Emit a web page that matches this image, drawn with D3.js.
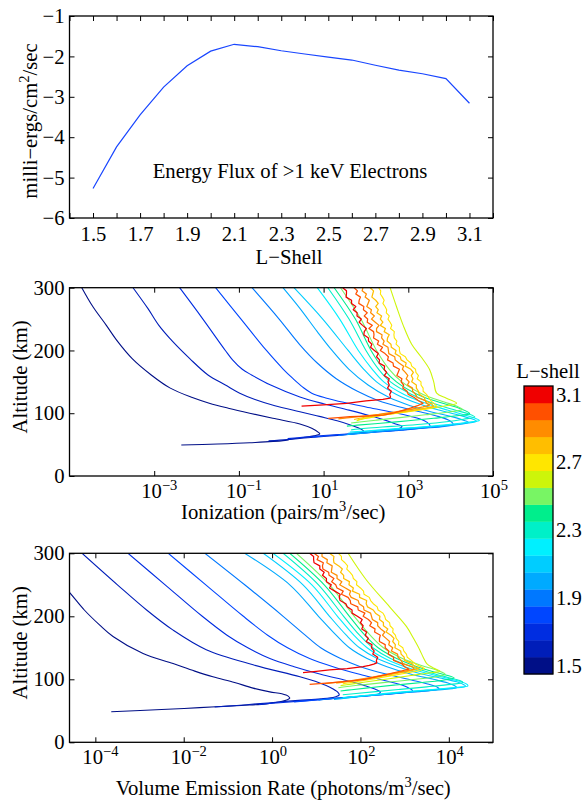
<!DOCTYPE html>
<html><head><meta charset="utf-8">
<script src="https://cdn.jsdelivr.net/npm/d3@7"></script>
<style>
body{margin:0;background:#fff}
svg{display:block}
text{font-family:"Liberation Serif","Times New Roman",Times,serif;font-size:20.7px;fill:#000}
</style></head>
<body><svg id="c" width="585" height="802"></svg>
<script>
// ---------------- DATA ----------------
const lShells = [1.5,1.6,1.7,1.8,1.9,2.0,2.1,2.2,2.3,2.4,2.5,2.6,2.7,2.8,2.9,3.0,3.1];
const energyFlux = [-5.27,-4.24,-3.45,-2.76,-2.23,-1.87,-1.70,-1.76,-1.86,-1.94,-2.02,-2.09,-2.22,-2.34,-2.43,-2.55,-3.16];
const lineColors = ["rgb(0,15,135)","rgb(0,30,185)","rgb(0,45,225)","rgb(0,70,255)","rgb(0,120,255)","rgb(0,170,255)","rgb(0,205,255)","rgb(0,240,255)","rgb(0,240,200)","rgb(0,238,140)","rgb(120,245,100)","rgb(205,245,10)","rgb(255,230,0)","rgb(255,190,0)","rgb(255,140,0)","rgb(255,80,0)","rgb(240,0,0)"];
const fluxXTicks = [1.4,1.5,1.6,1.7,1.8,1.9,2.0,2.1,2.2,2.3,2.4,2.5,2.6,2.7,2.8,2.9,3.0,3.1,3.2];
const fluxXLabels = [1.5,1.7,1.9,2.1,2.3,2.5,2.7,2.9,3.1];
const fluxYTicks = [-6,-5,-4,-3,-2,-1];
const altTicks = [0,100,200,300];
const ionXTicks = [1e-3,1e-1,1e1,1e3,1e5];
const emiXTicks = [1e-4,1e-2,1e0,1e2,1e4];
const cbarLabels = [1.5,1.9,2.3,2.7,3.1];

// profiles: [altitude km, log10 rate]
const ionL15 = [[300,-4.71],[270,-4.45],[240,-4.13],[214,-3.86],[187,-3.52],[161,-3.07],[140,-2.62],[125,-2.10],[116,-1.70],[108,-1.25],[100,-0.745],[92,-0.20],[83,0.44],[76,0.72],[70,0.87],[67,0.91],[64,0.78],[61,0.48],[58.5,0.22],[56.3,0.04],[53,-0.745],[51,-1.50],[49.4,-2.36]];
const ionL16 = [[300,-3.50],[267,-3.15],[240,-2.89],[214,-2.56],[187,-2.16],[161,-1.73],[145,-1.32],[132,-0.98],[122,-0.62],[112,-0.15],[102.5,0.44],[95,0.90],[88,1.32],[81,1.65],[75,1.88],[71,1.95],[68,1.80],[65.5,1.45],[63,1.00],[60.5,0.55],[58,0.15],[56,-0.30]];
const ionL17 = [[300,-2.40],[250,-1.85],[200,-1.32],[185,-1.15],[170,-0.92],[161,-0.70],[145,-0.25],[126,0.44],[115,1.00],[105,1.60],[96,2.10],[89,2.45],[83,2.70],[79,2.85],[76,2.80],[73,2.55],[70,2.10],[67,1.55],[64.5,1.00],[62,0.55],[59.5,0.15]];
const ionL18 = [[300,-1.55],[250,-0.95],[200,-0.35],[170,0.05],[155,0.28],[142,0.50],[132,0.72],[124,1.075],[117,1.50],[110,2.00],[102,2.60],[95,3.05],[88,3.38],[82,3.50],[78.6,3.51],[76,3.30],[73,2.85],[70,2.25],[67,1.65],[64.5,1.15],[62,0.75]];
const ionL19 = [[300,-0.69],[250,-0.05],[209,0.44],[180,0.85],[155,1.30],[135,1.80],[120,2.30],[110,2.80],[102,3.30],[95,3.70],[88,3.98],[82,4.06],[79,3.85],[76,3.35],[73,2.80],[70,2.25],[67,1.75],[64.5,1.35]];
const ionL20 = [[300,0.04],[267,0.44],[230,0.85],[200,1.20],[170,1.60],[145,2.05],[125,2.55],[112,3.05],[102,3.55],[95,4.00],[89,4.30],[85.5,4.42],[82,4.20],[79,3.70],[76,3.10],[72.5,2.50],[69,2.00],[66,1.55]];
const ionL21 = [[300,0.30],[250,0.98],[200,1.58],[170,1.95],[150,2.25],[130,2.72],[115,3.25],[105,3.72],[97,4.20],[92,4.45],[89,4.58],[87,4.61],[84,4.35],[80.5,3.85],[77,3.20],[74,2.55],[71,2.00],[68,1.58]];
const ionL22 = [[300,0.85],[250,1.38],[200,1.82],[170,2.15],[150,2.42],[130,2.90],[115,3.45],[105,3.92],[97,4.35],[92,4.58],[88.5,4.68],[86,4.45],[82,3.95],[78,3.30],[75,2.60],[72,2.05],[70,1.62]];
const ionL23 = [[300,1.10],[250,1.60],[200,2.00],[170,2.30],[150,2.58],[130,3.08],[115,3.62],[105,4.10],[99,4.42],[94,4.57],[90.5,4.30],[86.5,3.90],[82.5,3.30],[79,2.60],[76,2.00],[73.5,1.65]];
const ionL24 = [[300,1.25],[250,1.75],[200,2.12],[170,2.42],[150,2.72],[130,3.22],[117,3.75],[108,4.20],[99.5,4.45],[96,4.15],[92,3.60],[88,3.00],[84,2.35],[81,1.80],[79.5,1.55]];
const ionL25 = [[300,1.40],[250,1.88],[200,2.25],[170,2.55],[150,2.85],[130,3.35],[118,3.85],[111,4.15],[106,4.28],[102,3.95],[97.5,3.40],[93,2.80],[89,2.25],[86,1.85],[84.5,1.65]];
const ionL26 = [[300,2.57],[270,2.72],[240,2.88],[210,3.08],[190,3.30],[170,3.50],[150,3.60],[132,3.67],[124,3.90],[116,4.14],[112,3.90],[108,3.50],[103,3.00],[98,2.50],[93,2.10],[89.5,1.85],[88,1.78]];

// noisy upper parts (sampled every 5 km, 300 -> 130 km) and lower parts
const noiseAlts = [300,295,290,285,280,275,270,265,260,255,250,245,240,235,230,225,220,215,210,205,200,195,190,185,180,175,170,165,160,155,150,145,140,135,130];
const ionL27Upper = [2.30,2.35,2.34,2.39,2.43,2.40,2.45,2.49,2.48,2.55,2.52,2.57,2.61,2.58,2.67,2.66,2.67,2.73,2.71,2.79,2.79,2.81,2.93,2.97,3.06,3.08,3.17,3.18,3.24,3.21,3.30,3.30,3.35,3.35,3.43];
const ionL27Lower = [[120,3.53],[113,3.65],[110,3.67],[107,3.45],[103,3.05],[99,2.60],[95,2.20],[91,1.90],[89,1.80]];
const ionL28Upper = [2.10,2.18,2.16,2.14,2.23,2.29,2.23,2.29,2.26,2.37,2.34,2.40,2.34,2.46,2.43,2.55,2.51,2.50,2.59,2.60,2.71,2.69,2.81,2.83,2.95,2.93,3.06,3.12,3.07,3.11,3.08,3.19,3.19,3.24,3.26];
const ionL28Lower = [[125,3.38],[120,3.40],[115,3.55],[111,3.60],[108,3.40],[104,3.05],[100,2.60],[96,2.15],[92,1.85],[90,1.72]];
const ionL29Upper = [1.93,1.91,2.01,1.98,2.08,2.05,2.02,2.13,2.11,2.20,2.13,2.22,2.31,2.25,2.25,2.38,2.37,2.43,2.40,2.52,2.53,2.54,2.68,2.69,2.78,2.89,2.86,2.93,2.99,2.95,3.02,2.98,3.10,3.10,3.17];
const ionL29Lower = [[125,3.21],[120,3.40],[116,3.43],[113,3.50],[110,3.35],[106,3.05],[102,2.70],[98,2.30],[95,1.90],[92.5,1.55],[91,1.35]];
const ionL30Upper = [1.72,1.80,1.76,1.87,1.84,1.83,1.95,1.94,2.03,1.96,2.04,2.03,2.15,2.07,2.18,2.19,2.18,2.30,2.27,2.39,2.34,2.45,2.53,2.51,2.64,2.65,2.79,2.76,2.73,2.85,2.83,2.89,2.87,2.97,3.00];
const ionL30Lower = [[125,3.14],[120,3.24],[116,3.35],[112,3.22],[108,3.05],[104,2.85],[100,2.64],[97,2.41],[95.5,2.00],[94.5,1.62],[93,1.35],[92,1.11]];
const ionL31Upper = [1.45,1.54,1.54,1.53,1.66,1.66,1.76,1.70,1.79,1.79,1.89,1.84,1.92,2.01,1.96,1.95,2.06,2.06,2.14,2.11,2.20,2.29,2.25,2.32,2.31,2.44,2.43,2.49,2.43,2.55,2.52,2.55,2.51,2.60,2.56];
const ionL31Lower = [[126,2.58],[124,2.57],[122,2.40],[119.5,2.00],[115.8,1.54],[113.5,1.00],[111.5,0.48]];

const emiL15 = [[300,-5.40],[239,-4.60],[210,-4.25],[186,-3.90],[168,-3.60],[141,-2.92],[125,-2.24],[113,-1.75],[104,-1.34],[95,-0.85],[86,-0.43],[80,-0.05],[77,0.22],[73,0.37],[70,0.40],[67,0.33],[64,0.15],[61,-0.13],[58.5,-0.70],[55,-1.64],[52,-2.50],[48.6,-3.64]];
const emiL16 = [[300,-4.30],[250,-3.50],[210,-2.84],[178,-2.24],[147,-1.49],[123,-0.43],[104,0.63],[95,1.05],[87,1.32],[80,1.48],[75,1.52],[72,1.42],[69,1.10],[66.5,0.60],[64,0.15],[61,-0.35],[58.5,-0.80],[56,-1.30]];
const emiL17 = [[300,-3.26],[250,-2.42],[200,-1.58],[170,-1.02],[150,-0.55],[133,-0.05],[120,0.50],[108,1.10],[98,1.68],[90,2.10],[84,2.35],[80,2.45],[77,2.42],[74,2.15],[71,1.65],[68,1.10],[65,0.55],[62.5,0.10],[60,-0.30]];
const emiL18 = [[300,-2.35],[250,-1.50],[200,-0.65],[170,-0.10],[150,0.35],[133,0.85],[120,1.38],[108,1.98],[99,2.50],[92,2.88],[86,3.10],[82,3.18],[79,3.00],[76,2.55],[73,2.00],[70,1.45],[67,0.95],[64,0.50]];
const emiL19 = [[300,-1.52],[250,-0.62],[200,0.25],[170,0.75],[150,1.10],[133,1.55],[120,2.00],[108,2.60],[99,3.15],[92,3.55],[87.5,3.74],[85,3.78],[82,3.55],[79,3.05],[76,2.55],[73,2.00],[70,1.45],[67,1.05]];
const emiL20 = [[300,-0.62],[250,0.40],[200,1.05],[170,1.45],[150,1.75],[133,2.15],[120,2.60],[108,3.15],[100,3.65],[94,3.98],[89,4.15],[87,4.18],[84,3.90],[81,3.35],[77.5,2.75],[74,2.20],[70.5,1.70],[68,1.40]];
const emiL21 = [[300,-0.20],[250,0.70],[200,1.30],[170,1.68],[150,1.98],[133,2.38],[120,2.85],[110,3.30],[102,3.80],[96,4.18],[91,4.35],[89,4.38],[86,4.10],[82.5,3.50],[79,2.90],[75.5,2.35],[72,1.85],[69.5,1.55]];
const emiL22 = [[300,0.02],[250,0.90],[200,1.48],[170,1.85],[150,2.15],[133,2.55],[120,3.00],[110,3.48],[102,3.95],[96,4.28],[91.5,4.42],[89.5,4.43],[87,4.15],[83.5,3.55],[80,2.95],[76.5,2.40],[73,1.90],[71,1.60]];
const emiL23 = [[300,0.25],[250,1.05],[200,1.62],[170,1.98],[150,2.28],[133,2.68],[120,3.15],[110,3.60],[103,3.98],[98,4.25],[95,4.32],[92,4.05],[88,3.50],[84,2.90],[80.5,2.35],[77.5,1.90],[75.5,1.60]];
const emiL24 = [[300,0.40],[250,1.18],[200,1.75],[170,2.10],[150,2.40],[133,2.82],[120,3.28],[112,3.65],[106,3.98],[102,4.12],[99,3.90],[95,3.40],[91,2.80],[87,2.25],[83.5,1.80],[81.5,1.55]];
const emiL25 = [[300,0.55],[250,1.30],[200,1.86],[170,2.22],[150,2.52],[133,2.95],[122,3.38],[114,3.75],[108,3.92],[104,3.70],[100,3.25],[96,2.70],[92,2.15],[88.5,1.70],[86.5,1.50]];
const emiL26 = [[300,1.72],[258,2.13],[215,2.66],[184,3.04],[165,3.20],[147,3.34],[135,3.42],[125,3.50],[118,3.65],[113,3.80],[110,3.55],[106,3.15],[101,2.65],[96,2.15],[92,1.75],[90,1.55]];
const emiL27Upper = [1.50,1.57,1.57,1.65,1.71,1.69,1.76,1.82,1.84,1.92,1.91,2.00,2.07,2.08,2.20,2.23,2.29,2.38,2.40,2.51,2.55,2.57,2.66,2.67,2.74,2.73,2.79,2.81,2.87,2.86,2.96,2.98,3.04,3.06,3.15];
const emiL27Lower = [[124,3.25],[120,3.37],[117,3.45],[114,3.35],[110,3.05],[105,2.65],[100,2.25],[96,1.90],[93,1.60]];
const emiL28Upper = [1.30,1.40,1.39,1.40,1.51,1.59,1.55,1.62,1.62,1.75,1.74,1.84,1.82,1.98,1.98,2.14,2.13,2.16,2.29,2.34,2.44,2.43,2.52,2.52,2.62,2.58,2.69,2.76,2.73,2.79,2.78,2.91,2.92,2.99,3.00];
const emiL28Lower = [[125,3.17],[120,3.22],[117,3.33],[113,3.10],[108,2.70],[102,2.25],[97,1.80],[94,1.45]];
const emiL29Upper = [1.13,1.13,1.25,1.24,1.36,1.35,1.34,1.47,1.47,1.58,1.53,1.66,1.78,1.75,1.79,1.95,1.97,2.07,2.08,2.23,2.25,2.27,2.39,2.39,2.46,2.55,2.50,2.58,2.66,2.64,2.73,2.70,2.84,2.85,2.92];
const emiL29Lower = [[125,2.96],[120,3.17],[116,3.22],[112,2.95],[107,2.55],[102,2.15],[98,1.80],[95,1.45],[93,1.20]];
const emiL30Upper = [0.95,1.05,1.02,1.16,1.14,1.15,1.28,1.29,1.40,1.35,1.44,1.47,1.61,1.57,1.72,1.77,1.78,1.94,1.95,2.10,2.06,2.18,2.25,2.21,2.33,2.32,2.45,2.43,2.43,2.56,2.56,2.64,2.63,2.75,2.75];
const emiL30Lower = [[125,2.93],[120,3.00],[116,3.10],[112,2.85],[107,2.55],[103,2.30],[100,2.10],[97,1.75],[94.5,1.30],[92,0.85]];
const emiL31Upper = [0.85,0.94,0.94,0.95,1.08,1.08,1.18,1.14,1.23,1.23,1.34,1.30,1.42,1.54,1.52,1.54,1.67,1.70,1.81,1.81,1.93,2.04,2.00,2.06,2.03,2.14,2.11,2.18,2.13,2.26,2.25,2.31,2.28,2.39,2.36];
const emiL31Lower = [[126,2.37],[124,2.30],[122,2.20],[120,2.06],[117,1.70],[114.8,1.30],[112.5,1.00],[110.5,0.70]];

const withAlts = (upper, lower) => noiseAlts.map((a,i)=>[a, upper[i]]).concat(lower);
const ionizationProfiles = [ionL15,ionL16,ionL17,ionL18,ionL19,ionL20,ionL21,ionL22,ionL23,ionL24,ionL25,ionL26,
  withAlts(ionL27Upper,ionL27Lower),withAlts(ionL28Upper,ionL28Lower),withAlts(ionL29Upper,ionL29Lower),
  withAlts(ionL30Upper,ionL30Lower),withAlts(ionL31Upper,ionL31Lower)];
const emissionProfiles = [emiL15,emiL16,emiL17,emiL18,emiL19,emiL20,emiL21,emiL22,emiL23,emiL24,emiL25,emiL26,
  withAlts(emiL27Upper,emiL27Lower),withAlts(emiL28Upper,emiL28Lower),withAlts(emiL29Upper,emiL29Lower),
  withAlts(emiL30Upper,emiL30Lower),withAlts(emiL31Upper,emiL31Lower)];

// ---------------- DRAW ----------------
const svg = d3.select("#c");
const FS = 20.7;
const fmtMinus = v => (v < 0 ? "\u2212" + Math.abs(v) : String(v));

function styleAxis(g){
  g.select(".domain").remove();
  g.selectAll(".tick line").attr("stroke","#000").attr("stroke-width",1);
  g.selectAll(".tick text").attr("font-size",FS).attr("fill","#000")
    .attr("font-family",'"Liberation Serif","Times New Roman",serif');
}
function frame(p){
  svg.append("rect").attr("x",p.l).attr("y",p.t).attr("width",p.r-p.l).attr("height",p.b-p.t)
    .attr("fill","none").attr("stroke","#000").attr("stroke-width",1.3);
}
function clip(id,p){
  svg.append("clipPath").attr("id",id).append("rect")
    .attr("x",p.l).attr("y",p.t).attr("width",p.r-p.l).attr("height",p.b-p.t);
}
const TL = 5;

// ---- Panel 1 ----
const p1 = {l:69.5,r:493,t:16,b:218};
const x1 = d3.scaleLinear().domain([1.4,3.2]).range([p1.l,p1.r]);
const y1 = d3.scaleLinear().domain([-6,-1]).range([p1.b,p1.t]);
svg.append("g").attr("transform",`translate(0,${p1.b})`)
  .call(d3.axisBottom(x1).tickValues(fluxXTicks).tickSizeInner(-TL).tickSizeOuter(0).tickPadding(8)
    .tickFormat(d => fluxXLabels.some(v=>Math.abs(v-d)<1e-6) ? d3.format(".1f")(d) : "")).call(styleAxis);
svg.append("g").attr("transform",`translate(0,${p1.t})`)
  .call(d3.axisTop(x1).tickValues(fluxXTicks).tickSizeInner(-TL).tickSizeOuter(0).tickFormat(()=>"")).call(styleAxis);
svg.append("g").attr("transform",`translate(${p1.l},0)`)
  .call(d3.axisLeft(y1).tickValues(fluxYTicks).tickSizeInner(-TL).tickSizeOuter(0).tickPadding(5).tickFormat(fmtMinus)).call(styleAxis);
svg.append("g").attr("transform",`translate(${p1.r},0)`)
  .call(d3.axisRight(y1).tickValues(fluxYTicks).tickSizeInner(-TL).tickSizeOuter(0).tickFormat(()=>"")).call(styleAxis);
clip("cp1",p1);
svg.append("path").datum(lShells.map((l,i)=>[l,energyFlux[i]]))
  .attr("clip-path","url(#cp1)")
  .attr("fill","none").attr("stroke","rgb(25,70,255)").attr("stroke-width",1.2)
  .attr("d",d3.line().x(d=>x1(d[0])).y(d=>y1(d[1])));
frame(p1);
svg.append("text").attr("x",290).attr("y",178).attr("text-anchor","middle").text("Energy Flux of >1 keV Electrons");
svg.append("text").attr("x",289).attr("y",264).attr("text-anchor","middle").text("L\u2212Shell");
const yl1 = svg.append("text").attr("transform","translate(37,121) rotate(-90)").attr("text-anchor","middle");
yl1.append("tspan").text("milli\u2212ergs/cm");
yl1.append("tspan").attr("dy",-8).attr("font-size",14.5).text("2");
yl1.append("tspan").attr("dy",8).text("/sec");

// ---- log panels ----
function logPanel(p, domain, ticks, profiles, clipId, xlabelParts, xlabelY){
  const xs = d3.scaleLog().domain(domain).range([p.l,p.r]);
  const ys = d3.scaleLinear().domain([0,300]).range([p.b,p.t]);
  svg.append("g").attr("transform",`translate(0,${p.b})`)
    .call(d3.axisBottom(xs).tickValues(ticks).tickSizeInner(-TL).tickSizeOuter(0).tickFormat(()=>"")).call(styleAxis);
  svg.append("g").attr("transform",`translate(0,${p.t})`)
    .call(d3.axisTop(xs).tickValues(ticks).tickSizeInner(-TL).tickSizeOuter(0).tickFormat(()=>"")).call(styleAxis);
  svg.append("g").attr("transform",`translate(${p.l},0)`)
    .call(d3.axisLeft(ys).tickValues(altTicks).tickSizeInner(-TL).tickSizeOuter(0).tickPadding(5)).call(styleAxis);
  svg.append("g").attr("transform",`translate(${p.r},0)`)
    .call(d3.axisRight(ys).tickValues(altTicks).tickSizeInner(-TL).tickSizeOuter(0).tickFormat(()=>"")).call(styleAxis);
  ticks.forEach(v=>{
    const e = Math.round(Math.log10(v));
    const t = svg.append("text").attr("x",xs(v)-13).attr("y",p.b+22);
    t.append("tspan").text("10");
    t.append("tspan").attr("dy",-8).attr("font-size",14.5).text(fmtMinus(e));
  });
  clip(clipId,p);
  const g = svg.append("g").attr("clip-path",`url(#${clipId})`);
  const smooth = d3.line().x(d=>xs(Math.pow(10,d[1]))).y(d=>ys(d[0])).curve(d3.curveCatmullRom.alpha(0.5));
  const rough = d3.line().x(d=>xs(Math.pow(10,d[1]))).y(d=>ys(d[0]));
  profiles.forEach((prof,i)=>{
    g.append("path").datum(prof).attr("fill","none").attr("stroke",lineColors[i])
      .attr("stroke-width", i>=13 ? 1.25 : 1.1).attr("stroke-linejoin","round")
      .attr("d", i>=12 ? rough(prof) : smooth(prof));
  });
  frame(p);
  svg.append("text").attr("transform",`translate(27,${(p.t+p.b)/2-5}) rotate(-90)`).attr("text-anchor","middle").text("Altitude (km)");
  const xl = svg.append("text").attr("x",(p.l+p.r)/2+2).attr("y",xlabelY).attr("text-anchor","middle");
  xl.append("tspan").text(xlabelParts[0]);
  xl.append("tspan").attr("dy",-8).attr("font-size",14.5).text("3");
  xl.append("tspan").attr("dy",8).text(xlabelParts[1]);
}
const p2 = {l:69.5,r:493,t:287.7,b:476};
logPanel(p2,[1e-5,1e5],ionXTicks,ionizationProfiles,"cp2",["Ionization (pairs/m","/sec)"],519);
const p3 = {l:69.5,r:493,t:553.3,b:742.3};
logPanel(p3,[2.6e-5,1e5],emiXTicks,emissionProfiles,"cp3",["Volume Emission Rate (photons/m","/sec)"],795);

// ---- colorbar ----
const cb = {l:524,r:553,t:386,b:674};
const cy = d3.scaleLinear().domain([1.45,3.15]).range([cb.b,cb.t]);
svg.append("g").selectAll("rect").data(lShells).join("rect")
  .attr("x",cb.l).attr("width",cb.r-cb.l)
  .attr("y",d=>cy(d+0.05)).attr("height",d=>cy(d-0.05)-cy(d+0.05)+0.3)
  .attr("fill",(d,i)=>lineColors[i]);
svg.append("rect").attr("x",cb.l).attr("y",cb.t).attr("width",cb.r-cb.l).attr("height",cb.b-cb.t)
  .attr("fill","none").attr("stroke","#000").attr("stroke-width",1.3);
svg.append("g").attr("transform",`translate(${cb.r},0)`)
  .call(d3.axisRight(cy).tickValues(cbarLabels).tickSize(0).tickPadding(3).tickFormat(d3.format(".1f"))).call(styleAxis);
svg.append("text").attr("x",548).attr("y",378).attr("text-anchor","middle").text("L\u2212shell");
</script></body></html>
